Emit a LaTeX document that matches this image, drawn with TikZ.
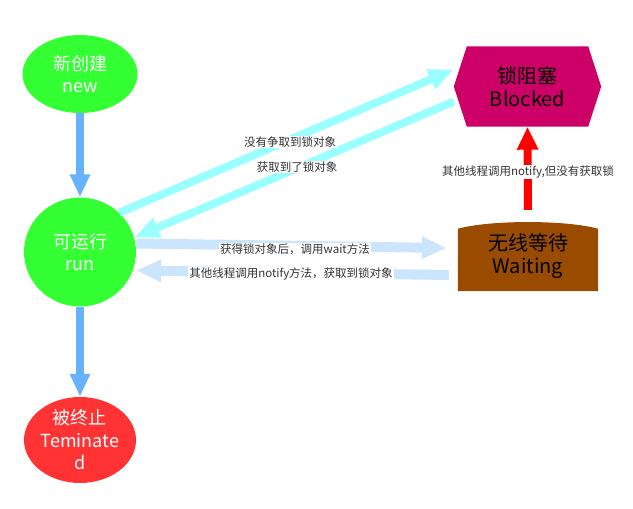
\documentclass[tikz,border=0pt]{standalone}
\usepackage{fontspec}
\setmainfont{Noto Sans CJK SC}
\usetikzlibrary{arrows.meta,shapes.geometric,backgrounds}
\definecolor{stgreen}{HTML}{33FF33}
\definecolor{stred}{HTML}{FF3333}
\definecolor{blkcol}{HTML}{CC0066}
\definecolor{waitcol}{HTML}{994C00}
\definecolor{flowblue}{HTML}{66B2FF}
\definecolor{lockcyan}{HTML}{99FFFF}
\definecolor{waitblue}{HTML}{CCE5FF}
\definecolor{lbltext}{HTML}{333333}
\begin{document}
\begin{tikzpicture}[x=1pt,y=-1pt,
  oval/.style={ellipse, inner sep=0pt, text=white, align=center,
    font=\fontsize{18}{22}\selectfont},
  boxstate/.style={rectangle, inner sep=0pt, align=center, text=black,
    font=\fontsize{20}{23}\selectfont},
  flow/.style={draw=flowblue, line width=8pt, -{Triangle[width=19pt,length=23pt]}},
  lockflow/.style={draw=lockcyan, line width=8pt, -{Triangle[width=20pt,length=25pt]}},
  waitflow/.style={draw=waitblue, line width=10pt, -{Triangle[width=21pt,length=25pt]}},
  notifyflow/.style={draw=red, line width=8pt, -{Triangle[width=20pt,length=23pt]}},
  lbl/.style={fill=white, inner sep=1pt, text=lbltext,
    font=\fontsize{11.5}{13}\selectfont}
]
\useasboundingbox (0,0) rectangle (633,509);

% states
\node[oval, fill=stgreen, minimum width=115, minimum height=78] (new) at (80,74) {新创建\\new};
\node[oval, fill=stgreen, minimum width=112, minimum height=109] (run) at (80,252) {可运行\\run};
\node[oval, fill=stred, minimum width=112, minimum height=86, font=\fontsize{18}{22.5}\selectfont] (term) at (80,440) {被终止\\Teminate\\d};
\node[boxstate, minimum width=147, minimum height=80] (blk) at (527.5,86.5) {锁阻塞\\Blocked};
\node[boxstate, minimum width=140, minimum height=69] (wait) at (528,256.5) {无线等待\\Waiting};

\begin{scope}[on background layer]
  % hexagon behind the Blocked state
  \fill[blkcol] (blk.west) -- ([xshift=13pt]blk.north west) -- ([xshift=-13pt]blk.north east)
    -- (blk.east) -- ([xshift=-13pt]blk.south east) -- ([xshift=13pt]blk.south west) -- cycle;
  % box with arched top behind the Waiting state
  \fill[waitcol] (wait.south west) -- ([yshift=-7pt]wait.north west)
    .. controls +(32,-9) and +(-32,-9) .. ([yshift=-7pt]wait.north east)
    -- (wait.south east) -- cycle;
\end{scope}

% transitions
\draw[flow] (new.south) -- (run.north);
\draw[flow] (run.south) -- (term.north);
\draw[lockflow] (run.45) -- ([yshift=17pt]blk.west);
\draw[lockflow] ([yshift=-15pt]blk.west) -- (run.15);
\draw[waitflow] ([yshift=8.5pt]run.east) -- ([xshift=-11pt,yshift=8.5pt]wait.west);
\draw[waitflow] ([xshift=-9pt,yshift=-18.5pt]wait.west) -- ([yshift=-18.5pt]run.east);
\draw[notifyflow] ([yshift=12pt]wait.north) -- (blk.south);

% transition labels
\node[lbl] (l1) at (290,142) {没有争取到锁对象};
\node[lbl] (l2) at (297,167) {获取到了锁对象};
\node[lbl] (l3) at (528,172) {其他线程调用notify,但没有获取锁};
\node[lbl] (l4) at (295,249) {获得锁对象后，调用wait方法};
\node[lbl] (l5) at (291,274) {其他线程调用notify方法，获取到锁对象};
\end{tikzpicture}
\end{document}
